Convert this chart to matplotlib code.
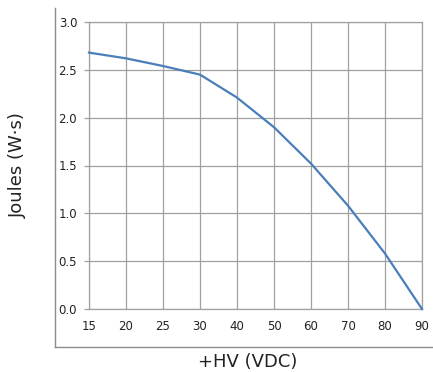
import matplotlib
matplotlib.use("Agg")
import matplotlib.pyplot as plt
import numpy as np

# Data
voltages = ["15", "20", "25", "30", "40", "50", "60", "70", "80", "90"]
joules = [2.68, 2.62, 2.54, 2.45, 2.21, 1.90, 1.52, 1.08, 0.58, 0.0]
y_ticks = [0.0, 0.5, 1.0, 1.5, 2.0, 2.5, 3.0]

LINE_BLUE = "#4a7ebb"
GRID_GRAY = "#a0a0a0"
FRAME_GRAY = "#8c8c8c"
TEXT = "#222222"

plt.rcParams["font.family"] = "DejaVu Sans"

fig = plt.figure(figsize=(4.33, 3.72), dpi=100)

# outer L-shaped frame
frame = fig.add_axes([55 / 433, 1 - 347 / 372, 1 - 55 / 433, (347 - 8) / 372])
frame.set_xticks([])
frame.set_yticks([])
frame.patch.set_visible(False)
for side in ("top", "right"):
    frame.spines[side].set_visible(False)
for side in ("left", "bottom"):
    frame.spines[side].set_color(FRAME_GRAY)
    frame.spines[side].set_linewidth(1.0)

ax = fig.add_axes([89 / 433, 1 - 309 / 372, (422 - 89) / 433, (309 - 22) / 372])
x = np.arange(len(voltages))
ax.plot(x, joules, color=LINE_BLUE, linewidth=1.6, zorder=3, clip_on=False)

ax.set_xlim(0, len(voltages) - 1)
ax.set_ylim(0, 3.0)
ax.set_xticks(x)
ax.set_xticklabels(voltages)
ax.set_yticks(y_ticks)
ax.set_yticklabels([f"{v:.1f}" for v in y_ticks])

ax.grid(True, color=GRID_GRAY, linewidth=0.9)
ax.set_axisbelow(True)
for side in ax.spines:
    ax.spines[side].set_color(GRID_GRAY)
    ax.spines[side].set_linewidth(0.9)

ax.tick_params(axis="y", length=3.5, width=0.9, color=GRID_GRAY,
               labelsize=8.5, labelcolor=TEXT, pad=5)
ax.tick_params(axis="x", length=0, labelsize=8.5, labelcolor=TEXT, pad=8)

fig.text(248 / 433, 1 - 362 / 372, "+HV (VDC)", ha="center", va="center",
         fontsize=13, color=TEXT)
fig.text(18 / 433, 1 - 165 / 372, "Joules (W\u00b7s)", ha="center", va="center",
         rotation=90, fontsize=13, color=TEXT)

fig.savefig("out.png", dpi=100, facecolor="white")
